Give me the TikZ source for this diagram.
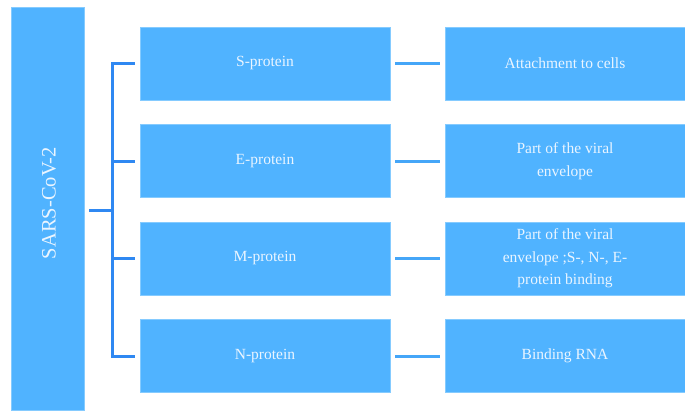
\documentclass[tikz,border=0pt]{standalone}
\usepackage{fontspec}
\setmainfont{Liberation Serif}
\usepackage{tikz}
\tikzset{>=latex}
\definecolor{boxblue}{HTML}{50B3FF}
\definecolor{boxedge}{HTML}{85CBFF}
\definecolor{treeblue}{HTML}{2F88F2}
\definecolor{linkblue}{HTML}{45A6F8}
\definecolor{boxtext}{HTML}{EAF5FF}

\begin{document}
\begin{tikzpicture}[x=1pt,y=-1pt,
    blockbox/.style={draw=boxedge,line width=0.6pt,fill=boxblue,text=boxtext,
        minimum height=73pt,inner sep=0pt,align=center,
        font=\fontsize{15.5}{22.5}\selectfont},
    protbox/.style={blockbox,minimum width=250pt},
    rolebox/.style={blockbox,minimum width=240pt},
    tree/.style={draw=treeblue,line width=3pt},
    link/.style={draw=linkblue,line width=3pt}]
            \draw[draw=none,use as bounding box] (0,0) rectangle (685,410);
            \node[blockbox,minimum width=73pt,minimum height=403pt] (sars) at (47.5,208.5){};
            \node[text=boxtext,rotate=90,font=\fontsize{20.5}{24}\selectfont] (sarslabel) at (49,203){SARS-CoV-2};
            \node[protbox] (sp) at (265,63.5){S-protein};
            \node[protbox] (ep) at (265,161){E-protein};
            \node[protbox] (mp) at (265,258.5){M-protein};
            \node[protbox] (np) at (265,356){N-protein};
            \node[rolebox] (sr) at (565,63.5){Attachment to cells};
            \node[rolebox] (er) at (565,161){Part of the viral\\envelope};
            \node[rolebox] (mr) at (565,258.5){\raisebox{4pt}{\parbox{240pt}{\centering Part of the viral\\envelope ;S-, N-, E-\\protein binding}}};
            \node[rolebox] (nr) at (565,356){Binding RNA};
            \coordinate (j) at (112,210);
            \draw[tree] ([xshift=5pt]sars.east |- j) -- (j);
            \draw[tree,line cap=butt] ([xshift=-5pt]sp.west) -| (j) |- ([xshift=-5pt]np.west);
            \draw[tree] ([xshift=-5pt]ep.west) -- (ep.west -| j);
            \draw[tree] ([xshift=-5pt]mp.west) -- (mp.west -| j);
            \draw[link] ([xshift=5pt]sp.east) -- ([xshift=-5pt]sr.west);
            \draw[link] ([xshift=5pt]ep.east) -- ([xshift=-5pt]er.west);
            \draw[link] ([xshift=5pt]mp.east) -- ([xshift=-5pt]mr.west);
            \draw[link] ([xshift=5pt]np.east) -- ([xshift=-5pt]nr.west);
        \end{tikzpicture}
\end{document}
